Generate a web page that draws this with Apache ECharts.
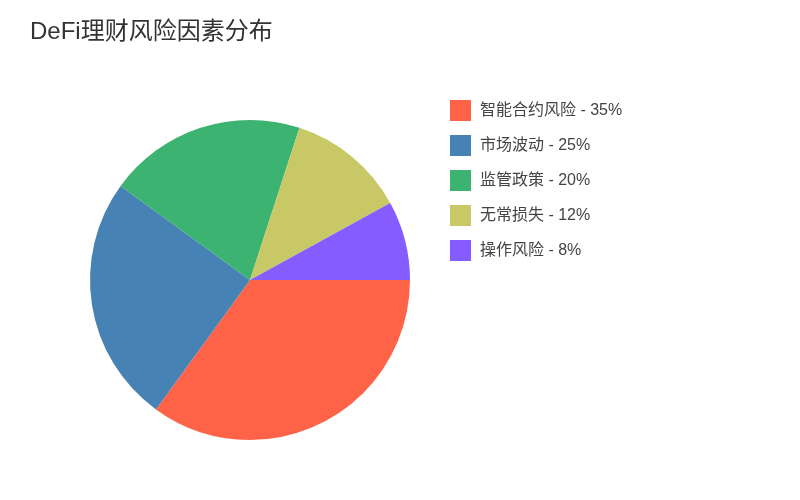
<!DOCTYPE html>
<html>
<head>
<meta charset="utf-8">
<script src="https://cdn.jsdelivr.net/npm/echarts@6/dist/echarts.min.js"></script>
<style>html,body{margin:0;padding:0;background:#fff;}#c{width:800px;height:500px;}</style>
</head>
<body>
<div id="c"></div>
<script>
const titleText = 'DeFi理财风险因素分布';
const categories = ['智能合约风险', '市场波动', '监管政策', '无常损失', '操作风险'];
const values = [35, 25, 20, 12, 8];
const colors = ['#FF6347', '#4682B4', '#3CB371', '#C8C866', '#845CFF'];

const FONT = 'Liberation Sans, Noto Sans CJK SC, sans-serif';
const chart = echarts.init(document.getElementById('c'));
const data = categories.map((n, i) => ({ name: n, value: values[i], itemStyle: { color: colors[i] } }));
chart.setOption({
  animation: false,
  backgroundColor: '#fff',
  title: {
    text: titleText,
    left: 30, top: 20, padding: 0,
    textStyle: { fontSize: 24, fontWeight: 'normal', color: '#333', fontFamily: FONT }
  },
  legend: {
    orient: 'vertical',
    left: 450, top: 100, padding: 0,
    itemWidth: 21, itemHeight: 21, itemGap: 14,
    icon: 'rect',
    formatter: function (name) {
      const i = categories.indexOf(name);
      return name + ' - ' + values[i] + '%';
    },
    textStyle: { fontSize: 16, color: '#444', padding: [0, 0, 0, 4], fontFamily: FONT }
  },
  series: [{
    type: 'pie',
    center: [250, 280],
    radius: 160,
    startAngle: 0,
    clockwise: true,
    label: { show: false },
    labelLine: { show: false },
    itemStyle: { borderWidth: 0 },
    emphasis: { disabled: true },
    data: data
  }]
});
</script>
</body>
</html>
